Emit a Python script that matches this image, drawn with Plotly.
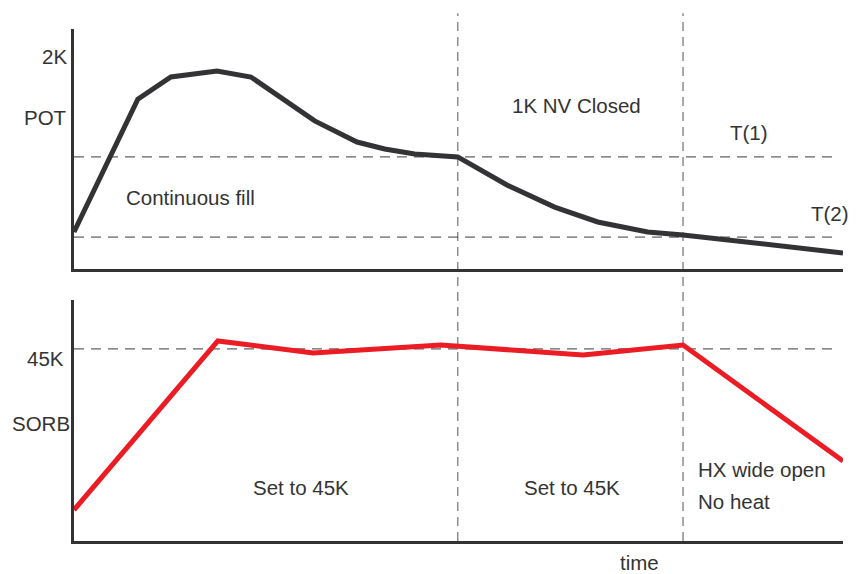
import plotly.graph_objects as go

# ---- data (arbitrary units) ----
pot_time = [0, 8.3, 12.6, 18.6, 23.0, 31.3, 36.8, 40.4, 44.3, 49.9, 56.3, 62.5, 68.1, 74.6, 79.2, 100]
pot_temp = [15.4, 70.8, 80.0, 82.5, 80.0, 61.7, 52.9, 50.0, 47.9, 46.7, 35.0, 25.8, 19.6, 15.4, 14.2, 6.7]

sorb_time = [0, 18.7, 31.1, 47.7, 66.2, 79.2, 100]
sorb_temp = [12.9, 83.0, 78.0, 81.3, 77.2, 81.3, 33.2]

t1_level = 46.7
t2_level = 13.3
sorb_set_level = 79.7
phase_boundaries = [49.9, 79.2]
dash_end = 99.1

FONT = "Liberation Sans, Arial, Helvetica, sans-serif"
TXT = "#333333"
FS = 20.5

fig = go.Figure()
fig.add_trace(go.Scatter(x=pot_time, y=pot_temp, mode="lines",
                         line=dict(color="#333336", width=5), xaxis="x", yaxis="y",
                         showlegend=False, hoverinfo="skip"))
fig.add_trace(go.Scatter(x=sorb_time, y=sorb_temp, mode="lines",
                         line=dict(color="#ec1c24", width=5), xaxis="x2", yaxis="y2",
                         showlegend=False, hoverinfo="skip"))

shapes = []
for lvl in (t1_level, t2_level):
    shapes.append(dict(type="line", xref="x", yref="y", x0=0, x1=dash_end, y0=lvl, y1=lvl,
                       line=dict(color="#3a3a3a", width=1, dash="10px,7px"), layer="below"))
shapes.append(dict(type="line", xref="x2", yref="y2", x0=0, x1=dash_end, y0=sorb_set_level, y1=sorb_set_level,
                   line=dict(color="#3a3a3a", width=1, dash="10px,7px"), layer="below"))
for b in phase_boundaries:
    shapes.append(dict(type="line", xref="x", yref="paper", x0=b, x1=b, y0=0, y1=1.031,
                       line=dict(color="#8c8c8c", width=1.5, dash="9px,6px"), layer="below"))

def ann(text, x, y, xref, yref, xanchor="center"):
    return dict(text=text, x=x, y=y, xref=xref, yref=yref, xanchor=xanchor, yanchor="middle",
                showarrow=False, font=dict(family=FONT, size=FS, color=TXT))

annotations = [
    ann("2K", -0.006, 0.947, "paper", "paper", "right"),
    ann("POT", -0.006, 0.828, "paper", "paper", "right"),
    ann("45K", -0.010, 0.357, "paper", "paper", "right"),
    ann("SORB", -0.003, 0.230, "paper", "paper", "right"),
    ann("Continuous fill", 15.1, 29.6, "x", "y"),
    ann("1K NV Closed", 65.3, 68.3, "x", "y"),
    ann("T(1)", 87.8, 56.7, "x", "y"),
    ann("T(2)", 98.3, 23.3, "x", "y"),
    ann("Set to 45K", 29.5, 22.0, "x2", "y2"),
    ann("Set to 45K", 64.8, 22.4, "x2", "y2"),
    ann("HX wide open", 80.9, 29.5, "x2", "y2", "left"),
    ann("No heat", 80.9, 16.2, "x2", "y2", "left"),
    ann("time", 73.5, -0.042, "x2", "paper"),
]

axis_common = dict(range=[0, 100], showgrid=False, zeroline=False, showticklabels=False,
                   ticks="", showline=True, linecolor="#333336", linewidth=3, fixedrange=True)

fig.update_layout(
    width=856, height=574,
    margin=dict(l=74, r=13, t=29, b=33),
    paper_bgcolor="white", plot_bgcolor="white",
    xaxis=dict(axis_common, domain=[0, 1], anchor="y"),
    yaxis=dict(axis_common, domain=[0.53125, 1], anchor="x"),
    xaxis2=dict(axis_common, domain=[0, 1], anchor="y2"),
    yaxis2=dict(axis_common, domain=[0, 0.4707], anchor="x2"),
    shapes=shapes, annotations=annotations, showlegend=False,
)

fig.write_html("out.html", config={"displayModeBar": False},
               post_script="document.body.style.margin='0';document.body.style.overflow='hidden';")
